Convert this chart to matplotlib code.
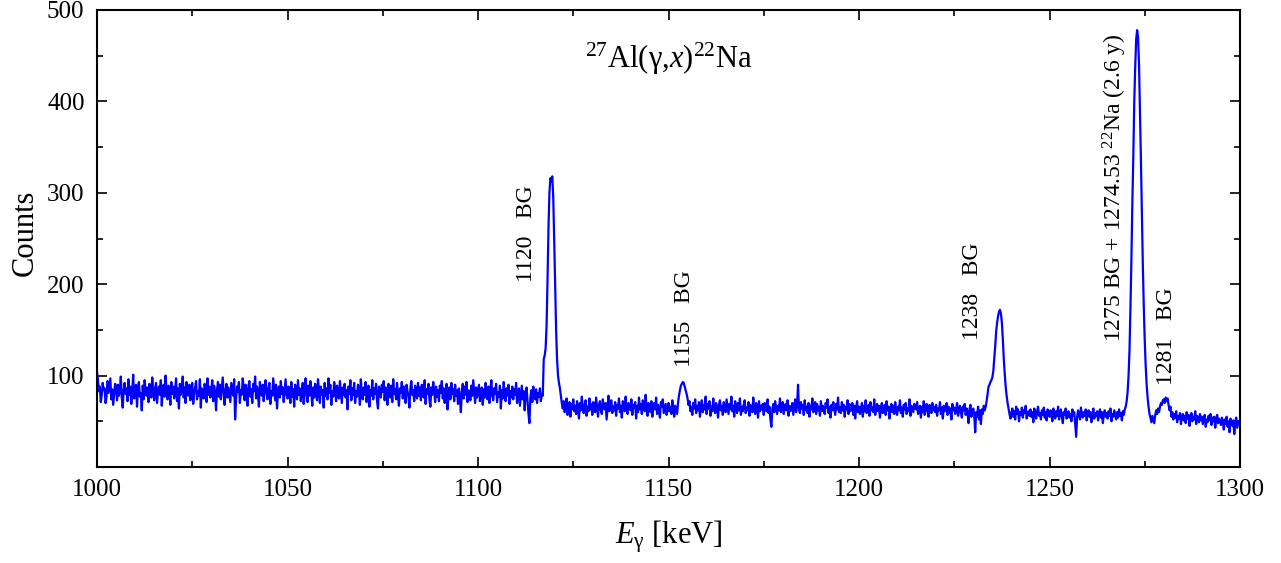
import numpy as np
import matplotlib
matplotlib.use('Agg')
import matplotlib.pyplot as plt
from matplotlib.ticker import MultipleLocator

plt.rcParams['font.family'] = ['Liberation Serif', 'DejaVu Serif']
plt.rcParams['mathtext.fontset'] = 'custom'
plt.rcParams['mathtext.rm'] = 'Liberation Serif'
plt.rcParams['mathtext.it'] = 'Liberation Serif:italic'
plt.rcParams['mathtext.bf'] = 'Liberation Serif:bold'

# spectrum: 0.25 keV per channel, first channel at 1000 keV
E0 = 1000.0
GAIN = 0.25
counts = [
    # 1000 - 1050 keV
    104, 95, 83, 88, 71, 79, 92, 84, 86, 70, 77, 94, 81, 89, 97, 74, 85, 68, 80, 91,
    87, 73, 90, 78, 83, 99, 76, 65, 84, 92, 80, 86, 72, 96, 79, 88, 69, 83, 101, 75,
    82, 90, 66, 85, 93, 77, 81, 62, 89, 74, 95, 84, 78, 87, 71, 91, 80, 76, 98, 83,
    73, 86, 92, 70, 81, 88, 79, 95, 67, 84, 90, 77, 100, 82, 74, 89, 85, 68, 93, 80,
    88, 75, 83, 97, 72, 86, 64, 91, 79, 84, 99, 76, 87, 70, 93, 81, 78, 90, 73, 85,
    92, 69, 80, 87, 94, 74, 83, 78, 96, 65, 86, 81, 75, 91, 84, 71, 97, 79, 88, 76,
    83, 95, 72, 89, 80, 62, 85, 93, 77, 90, 74, 86, 98, 81, 68, 84, 91, 76, 87, 79,
    71, 92, 85, 78, 96, 52, 74, 88, 82, 93, 70, 84, 79, 97, 86, 73, 90, 81, 67, 89,
    94, 77, 85, 70, 91, 83, 99, 75, 88, 80, 66, 93, 84, 78, 90, 72, 87, 95, 81, 74,
    86, 92, 69, 83, 78, 97, 85, 73, 90, 64, 82, 88, 76, 94, 80, 87, 71, 84, 96, 79,
    # 1050 - 1100 keV
    75, 88, 82, 70, 93, 77, 85, 66, 90, 81, 74, 95, 79, 86, 72, 84, 92, 69, 80, 97,
    83, 71, 89, 78, 94, 82, 67, 87, 76, 91, 80, 73, 96, 85, 70, 88, 79, 84, 65, 92,
    78, 86, 74, 97, 81, 90, 68, 83, 77, 93, 85, 72, 89, 80, 75, 94, 82, 70, 87, 79,
    91, 76, 84, 63, 88, 80, 95, 73, 86, 79, 92, 70, 83, 77, 90, 84, 68, 96, 81, 74,
    87, 79, 93, 71, 82, 89, 66, 84, 78, 95, 74, 86, 80, 91, 72, 64, 88, 83, 76, 90,
    82, 94, 73, 87, 79, 68, 91, 84, 76, 89, 71, 96, 80, 85, 74, 92, 78, 67, 86, 81,
    93, 75, 88, 80, 70, 90, 83, 77, 65, 86, 94, 79, 84, 72, 89, 81, 75, 92, 78, 87,
    73, 90, 82, 76, 95, 69, 85, 80, 91, 74, 66, 87, 79, 93, 83, 71, 88, 77, 84, 72,
    89, 81, 94, 75, 86, 70, 83, 91, 63, 79, 87, 74, 92, 80, 85, 72, 90, 78, 84, 69,
    86, 77, 60, 82, 91, 75, 88, 79, 93, 71, 84, 80, 73, 89, 78, 95, 82, 70, 87, 76,
    # 1100 - 1150 keV
    83, 90, 72, 79, 87, 68, 85, 76, 92, 81, 74, 88, 70, 84, 95, 78, 73, 86, 80, 91,
    71, 82, 77, 89, 64, 84, 75, 93, 80, 72, 86, 78, 90, 69, 83, 76, 88, 74, 85, 79,
    92, 70, 81, 86, 67, 78, 89, 74, 83, 62, 80, 87, 73, 58, 48, 76, 84, 71, 88, 79,
    74, 85, 70, 81, 77, 86, 72, 80, 78, 118, 122, 130, 155, 205, 262, 300, 316, 312, 318, 295,
    250, 200, 150, 118, 100, 92, 86, 78, 70, 64, 72, 60, 68, 75, 57, 66, 71, 55, 69, 63,
    74, 61, 67, 58, 72, 64, 53, 70, 62, 77, 65, 59, 68, 73, 56, 66, 61, 75, 63, 69,
    57, 71, 64, 60, 76, 66, 55, 68, 72, 62, 58, 74, 67, 63, 70, 52, 65, 78, 61, 69,
    73, 59, 66, 62, 71, 56, 68, 64, 75, 60, 67, 54, 72, 65, 61, 77, 63, 58, 70, 66,
    62, 74, 57, 68, 65, 71, 53, 67, 60, 76, 63, 69, 58, 73, 66, 61, 79, 64, 56, 70,
    67, 60, 72, 55, 65, 70, 63, 76, 58, 68, 62, 54, 71, 66, 74, 59, 64, 69, 57, 63,
    # 1150 - 1200 keV
    70, 61, 66, 58, 73, 63, 55, 67, 62, 58, 70, 78, 84, 89, 91, 93, 92, 88, 84, 80,
    75, 68, 72, 61, 66, 57, 70, 64, 74, 59, 67, 62, 71, 55, 65, 73, 60, 68, 63, 77,
    58, 69, 64, 72, 56, 66, 61, 75, 63, 59, 70, 65, 54, 68, 73, 62, 67, 57, 71, 64,
    60, 74, 66, 58, 69, 63, 77, 61, 67, 55, 72, 64, 59, 70, 62, 75, 57, 66, 61, 68,
    73, 59, 65, 62, 71, 56, 68, 64, 60, 76, 63, 58, 70, 66, 54, 72, 61, 67, 63, 69,
    57, 70, 64, 61, 74, 59, 66, 52, 44, 63, 69, 60, 72, 65, 58, 67, 62, 75, 60, 66,
    71, 58, 65, 69, 62, 73, 56, 67, 61, 64, 70, 57, 66, 74, 60, 68, 90, 63, 59, 71,
    64, 68, 57, 73, 62, 66, 59, 70, 55, 67, 63, 75, 60, 65, 71, 58, 69, 62, 66, 56,
    72, 61, 67, 63, 58, 70, 65, 74, 59, 66, 54, 68, 62, 71, 64, 57, 69, 63, 76, 60,
    65, 59, 71, 62, 68, 55, 66, 63, 73, 58, 69, 61, 64, 70, 57, 67, 53, 65, 72, 60,
    # 1200 - 1250 keV
    66, 58, 64, 70, 55, 67, 61, 73, 59, 63, 68, 56, 71, 62, 65, 60, 74, 57, 64, 69,
    61, 67, 54, 65, 70, 59, 63, 68, 57, 72, 62, 66, 53, 64, 69, 60, 67, 58, 71, 63,
    57, 66, 62, 73, 59, 65, 55, 68, 63, 70, 58, 64, 61, 74, 56, 67, 62, 60, 69, 65,
    63, 71, 58, 62, 67, 54, 66, 60, 72, 57, 64, 69, 61, 55, 68, 63, 59, 70, 62, 66,
    60, 68, 56, 64, 62, 71, 58, 65, 53, 67, 61, 63, 70, 57, 66, 59, 64, 52, 69, 62,
    65, 58, 63, 70, 56, 61, 67, 60, 54, 66, 62, 69, 57, 64, 59, 48, 63, 68, 55, 61,
    64, 57, 38, 60, 55, 66, 52, 62, 47, 63, 58, 67, 62, 66, 72, 80, 88, 90, 93, 95,
    98, 105, 118, 132, 148, 158, 165, 170, 172, 168, 158, 140, 118, 102, 88, 78, 70, 64, 58, 53,
    59, 64, 55, 61, 52, 66, 58, 63, 50, 60, 57, 65, 54, 62, 59, 67, 53, 58, 61, 56,
    63, 55, 60, 49, 64, 58, 53, 61, 66, 56, 59, 52, 62, 57, 65, 54, 60, 51, 63, 58,
    # 1250 - 1300 keV
    55, 62, 57, 50, 64, 59, 53, 61, 56, 66, 52, 58, 63, 55, 48, 60, 57, 64, 53, 59,
    61, 54, 58, 50, 63, 56, 60, 47, 33, 55, 62, 57, 52, 65, 58, 54, 60, 56, 63, 51,
    58, 62, 55, 60, 49, 57, 64, 53, 59, 56, 61, 51, 58, 63, 54, 60, 48, 57, 62, 55,
    59, 53, 61, 56, 64, 50, 58, 55, 62, 57, 52, 60, 54, 63, 56, 59, 51, 61, 57, 63,
    66, 72, 82, 100, 128, 175, 228, 290, 340, 400, 438, 468, 478, 470, 440, 390, 335, 275, 220, 175,
    138, 110, 90, 76, 66, 58, 54, 49, 56, 52, 48, 57, 62, 58, 64, 60, 66, 70, 68, 73,
    74, 70, 76, 72, 75, 68, 62, 66, 55, 60, 52, 58, 54, 61, 49, 56, 53, 59, 47, 55,
    58, 51, 56, 48, 60, 53, 57, 45, 54, 59, 50, 55, 52, 61, 47, 56, 53, 49, 58, 51,
    55, 47, 53, 57, 44, 52, 49, 56, 51, 58, 46, 54, 50, 55, 43, 52, 57, 48, 53, 50,
    46, 54, 49, 41, 52, 47, 55, 44, 50, 38, 53, 48, 45, 51, 36, 49, 54, 43, 50, 47,
    52,
]
counts = np.array(counts)
energy = E0 + GAIN * np.arange(len(counts))

# peak labels: (energy position, lower end in counts, text)
label_x = [1112.6, 1154.3, 1229.9, 1267.2, 1280.8]
label_y = [202, 109, 139, 137, 90]
label_txt = ['1120   BG', '1155   BG', '1238   BG',
             '1275 BG + 1274.53 $^{22}$Na (2.6 y)', '1281   BG']

fig = plt.figure(figsize=(12.81, 5.63), dpi=100)
ax = fig.add_axes([97 / 1281, 1 - 467 / 563, 1143 / 1281, 457 / 563])

ax.plot(energy, counts, color='#0000ff', lw=1.6)

for x, y, t in zip(label_x, label_y, label_txt):
    ax.text(x, y, t, rotation=90, ha='center', va='bottom', fontsize=17)

ax.text(1150, 447, '$^{27}$Al(γ,$x$)$^{22}$Na', ha='center', va='center', fontsize=22)

ax.set_xlim(1000, 1300)
ax.set_ylim(0, 500)
ax.set_yticks([100, 200, 300, 400, 500])
ax.xaxis.set_major_locator(MultipleLocator(50))
ax.xaxis.set_minor_locator(MultipleLocator(25))
ax.yaxis.set_minor_locator(MultipleLocator(50))

ax.tick_params(which='both', direction='in', top=True, right=True, labelsize=18, width=1.2, pad=9)
ax.tick_params(which='major', length=7)
ax.tick_params(which='minor', length=4)
for s in ax.spines.values():
    s.set_linewidth(1.5)

ax.set_xlabel(r'$E_{\mathrm{γ}}$ [keV]', fontsize=22, va='center')
ax.set_ylabel('Counts', fontsize=22, va='center')
ax.xaxis.set_label_coords(0.5, -0.153)
ax.yaxis.set_label_coords(-0.063, 0.512)

fig.savefig('out.png', dpi=100)
